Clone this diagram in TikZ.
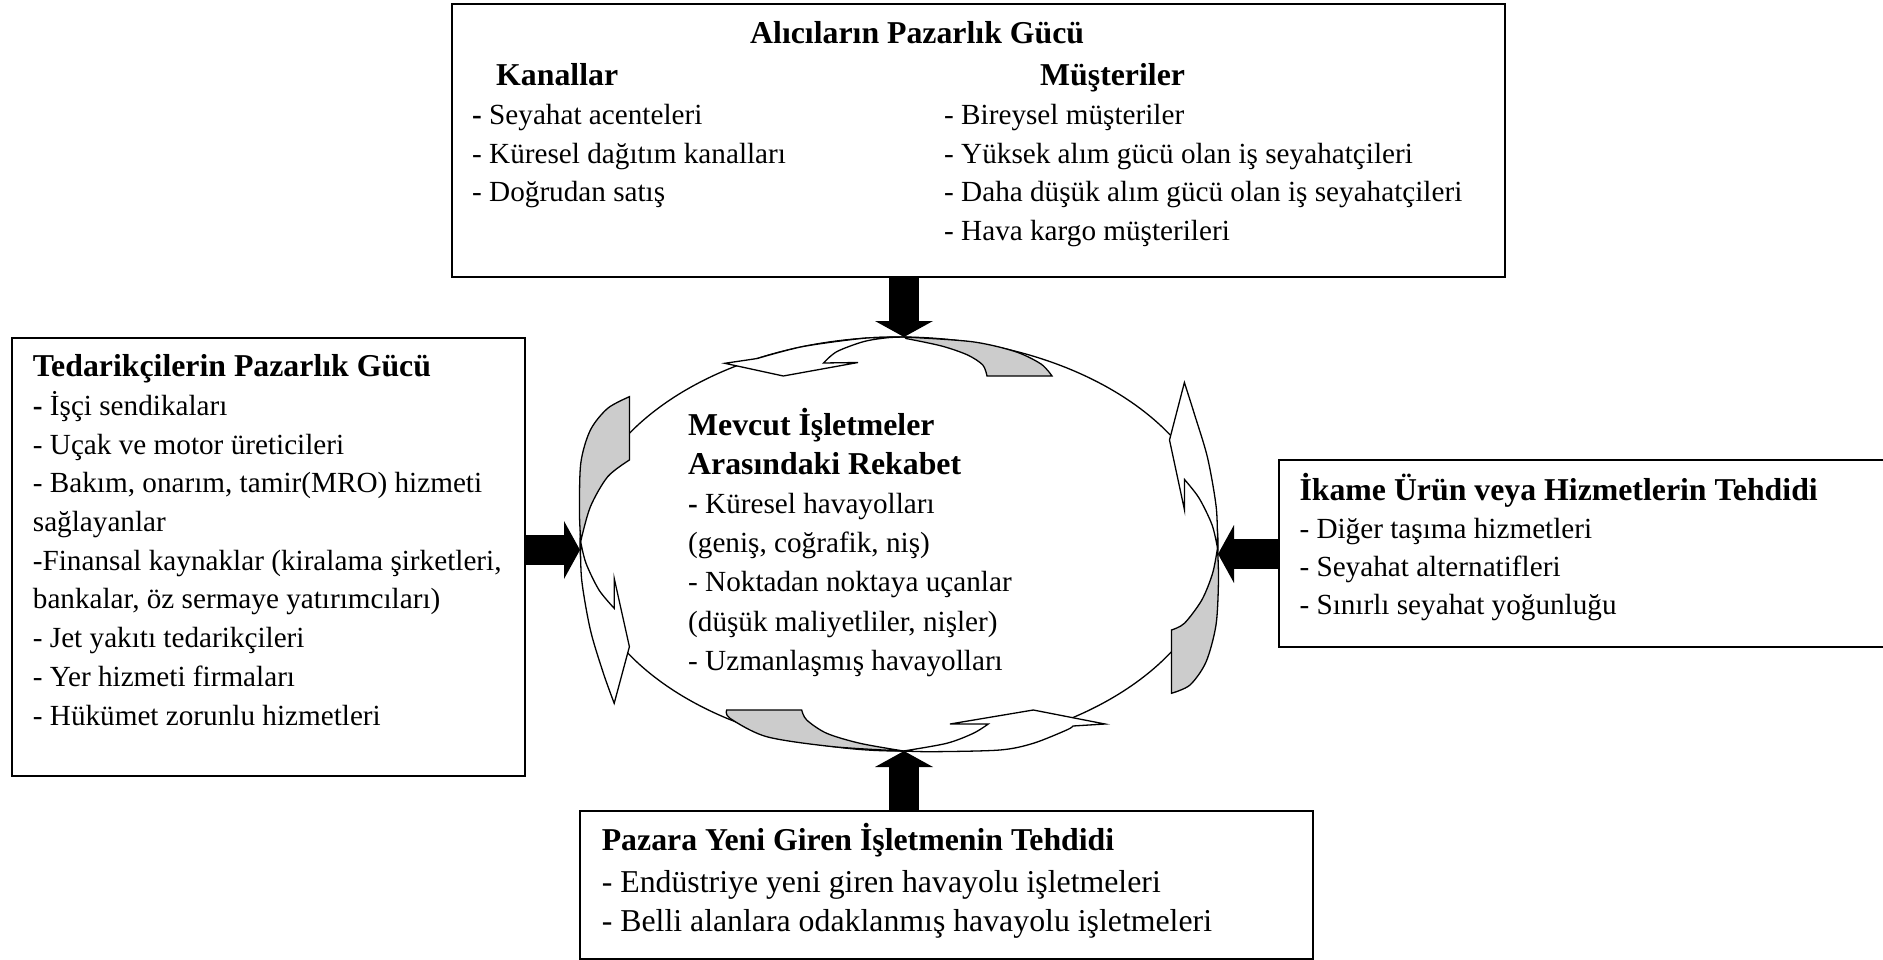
\documentclass[tikz,border=0pt]{standalone}
\usepackage{fontspec}
\setmainfont{Liberation Serif}
\usetikzlibrary{shapes.geometric,arrows.meta}
\definecolor{ribgray}{RGB}{204,204,204}
\begin{document}
\begin{tikzpicture}[x=1pt,y=-1pt,
  box/.style={draw=black, line width=2pt, rectangle, inner sep=0pt, anchor=north west},
  hd/.style={anchor=base west, inner sep=0pt, font=\fontsize{31.8pt}{38pt}\selectfont\bfseries},
  it/.style={anchor=base west, inner sep=0pt, font=\fontsize{29.2pt}{38pt}\selectfont},
  itbig/.style={anchor=base west, inner sep=0pt, font=\fontsize{31.8pt}{38pt}\selectfont},
  ribbon/.style={draw=black, line width=1.3pt, line join=miter},
  blockarrow/.style={line width=30pt, -{Triangle[width=58pt,length=16pt,line width=0pt]}},
]
\useasboundingbox (0,0) rectangle (1883,960);

% the five boxes
\node[box, minimum width=1053pt, minimum height=273pt] (buy) at (451,3) {};
\node[box, minimum width=513pt, minimum height=438pt] (sup) at (11,337) {};
\node[box, minimum width=622pt, minimum height=187pt] (sub) at (1278,459) {};
\node[box, minimum width=733pt, minimum height=148pt] (ent) at (579,810) {};

% central rivalry ellipse
\node[draw=black, ellipse, line width=1.3pt, minimum width=638pt, minimum height=414pt, inner sep=0pt] (rival) at (899,544) {};

% curved ribbon arrows round the ellipse (counter-clockwise)
% top
\filldraw[ribbon, fill=ribgray] plot[smooth] coordinates {(904.5,337) (972,341.7) (1015,351.5) (1041,364) (1052,376)} -- (987,376)
  -- plot[smooth] coordinates {(987,376) (982.8,365) (967.6,355) (941.6,346) (906,338.5)} -- cycle;
\filldraw[ribbon, fill=white] plot[smooth] coordinates {(904.5,337) (863.6,338.3) (802.8,346.6) (757.3,358.5)} -- (724.8,363.3) -- (783.3,376) -- (858,362.5) -- (823.5,363)
  -- plot[smooth] coordinates {(823.5,363) (836.7,351.7) (863.3,341.7) (886.7,337.8) (904.5,337)} -- cycle;
% left
\filldraw[ribbon, fill=ribgray] (629.4,396.7) -- (629.4,460) -- plot[smooth] coordinates {(629.4,460) (607.7,476.7) (590.4,506.7) (580.8,541)}
  -- plot[smooth] coordinates {(580.8,541) (579.5,513.3) (580.8,463) (590.4,430) (607.7,408.3) (629.4,396.7)} -- cycle;
\filldraw[ribbon, fill=white] plot[smooth] coordinates {(580.5,541) (586,563.3) (599,590) (614.2,608.3)} -- (614.2,578.3) -- (629.4,646.7) -- (614.2,703.3)
  -- plot[smooth] coordinates {(614.2,703.3) (603.4,673.3) (590.4,630) (581.7,580) (580.5,541)} -- cycle;
% bottom
\filldraw[ribbon, fill=ribgray] (726.7,710) -- (801.7,710) -- plot[smooth] coordinates {(801.7,710) (806.7,720) (826.7,733.3) (860,743.3) (903.5,751)}
  -- plot[smooth] coordinates {(903.5,751) (833.3,746.7) (766.7,736.7) (730,718.3) (726.7,710)} -- cycle;
\filldraw[ribbon, fill=white] plot[smooth] coordinates {(903.5,751) (933,751.7) (1000,750) (1033.3,743.3) (1066.7,730) (1073,726)} -- (1105,724) -- (1033.3,710) -- (950,724) -- (988.3,724)
  -- plot[smooth] coordinates {(988.3,724) (973.3,733.3) (946.7,743.3) (903.5,751)} -- cycle;
% right
\filldraw[ribbon, fill=ribgray] (1171.4,693.3) -- (1171.4,630) -- plot[smooth] coordinates {(1171.4,630) (1184.4,623.3) (1201.8,600) (1212.6,573.3) (1217.5,548)}
  -- plot[smooth] coordinates {(1217.5,548) (1218.5,580) (1216,625) (1206,662) (1190,685) (1171.4,693.3)} -- cycle;
\filldraw[ribbon, fill=white] plot[smooth] coordinates {(1217.5,548) (1212,524.7) (1199,498) (1184.5,479.5)} -- (1184.5,510) -- (1169.5,440) -- (1184.4,382.5)
  -- plot[smooth] coordinates {(1184.4,382.5) (1194.6,414.7) (1207.6,458) (1216.3,508) (1217.5,548)} -- cycle;

% block arrows from the forces to the rivalry
\coordinate (tipT) at (904,337);
\coordinate (tipL) at (580,550);
\coordinate (tipR) at (1218,554);
\coordinate (tipB) at (904,751);
\draw[blockarrow] (buy.south -| tipT) -- (tipT);
\draw[blockarrow] (sup.east |- tipL) -- (tipL);
\draw[blockarrow] (sub.west |- tipR) -- (tipR);
\draw[blockarrow] (ent.north -| tipB) -- (tipB);

% buyers
\node[hd] (buyT) at (750,43.3) {Alıcıların Pazarlık Gücü};
\node[hd] (buyK) at (496,86) {Kanallar};
\node[hd] (buyM) at (1040,86) {Müşteriler};
\node[it] (buyK1) at (472,124.3) {\textbf{-} Seyahat acenteleri};
\node[it] (buyK2) at (472,163.3) {- Küresel dağıtım kanalları};
\node[it] (buyK3) at (472,201.7) {- Doğrudan satış};
\node[it] (buyM1) at (944,124.3) {- Bireysel müşteriler};
\node[it] (buyM2) at (944,163.3) {- Yüksek alım gücü olan iş seyahatçileri};
\node[it] (buyM3) at (944,201.7) {- Daha düşük alım gücü olan iş seyahatçileri};
\node[it] (buyM4) at (944,240.7) {- Hava kargo müşterileri};

% suppliers
\node[hd] (supT) at (32.7,376.7) {Tedarikçilerin Pazarlık Gücü};
\node[it] (sup1) at (32.7,415.4) {\textbf{-} İşçi sendikaları};
\node[it] (sup2) at (32.7,454.1) {- Uçak ve motor üreticileri};
\node[it] (sup3) at (32.7,492.8) {- Bakım, onarım, tamir(MRO) hizmeti};
\node[it] (sup4) at (32.7,531.5) {sağlayanlar};
\node[it] (sup5) at (32.7,570.2) {-Finansal kaynaklar (kiralama şirketleri,};
\node[it] (sup6) at (32.7,608.9) {bankalar, öz sermaye yatırımcıları)};
\node[it] (sup7) at (32.7,647.6) {- Jet yakıtı tedarikçileri};
\node[it] (sup8) at (32.7,686.3) {- Yer hizmeti firmaları};
\node[it] (sup9) at (32.7,725) {- Hükümet zorunlu hizmetleri};

% substitutes
\node[hd] (subT) at (1299.3,500) {İkame Ürün veya Hizmetlerin Tehdidi};
\node[it] (sub1) at (1299.3,538.3) {- Diğer taşıma hizmetleri};
\node[it] (sub2) at (1299.3,576.6) {- Seyahat alternatifleri};
\node[it] (sub3) at (1299.3,614.9) {- Sınırlı seyahat yoğunluğu};

% rivalry
\node[hd] (rivT1) at (688,435) {Mevcut İşletmeler};
\node[hd] (rivT2) at (688,474.2) {Arasındaki Rekabet};
\node[it] (riv1) at (688,513.4) {\textbf{-} Küresel havayolları};
\node[it] (riv2) at (688,552.6) {(geniş, coğrafik, niş)};
\node[it] (riv3) at (688,591.8) {- Noktadan noktaya uçanlar};
\node[it] (riv4) at (688,631) {(düşük maliyetliler, nişler)};
\node[it] (riv5) at (688,670.2) {- Uzmanlaşmış havayolları};

% new entrants
\node[hd] (entT) at (601.6,850) {Pazara Yeni Giren İşletmenin Tehdidi};
\node[itbig] (ent1) at (601.6,892) {- Endüstriye yeni giren havayolu işletmeleri};
\node[itbig] (ent2) at (601.6,931) {- Belli alanlara odaklanmış havayolu işletmeleri};
\end{tikzpicture}
\end{document}
